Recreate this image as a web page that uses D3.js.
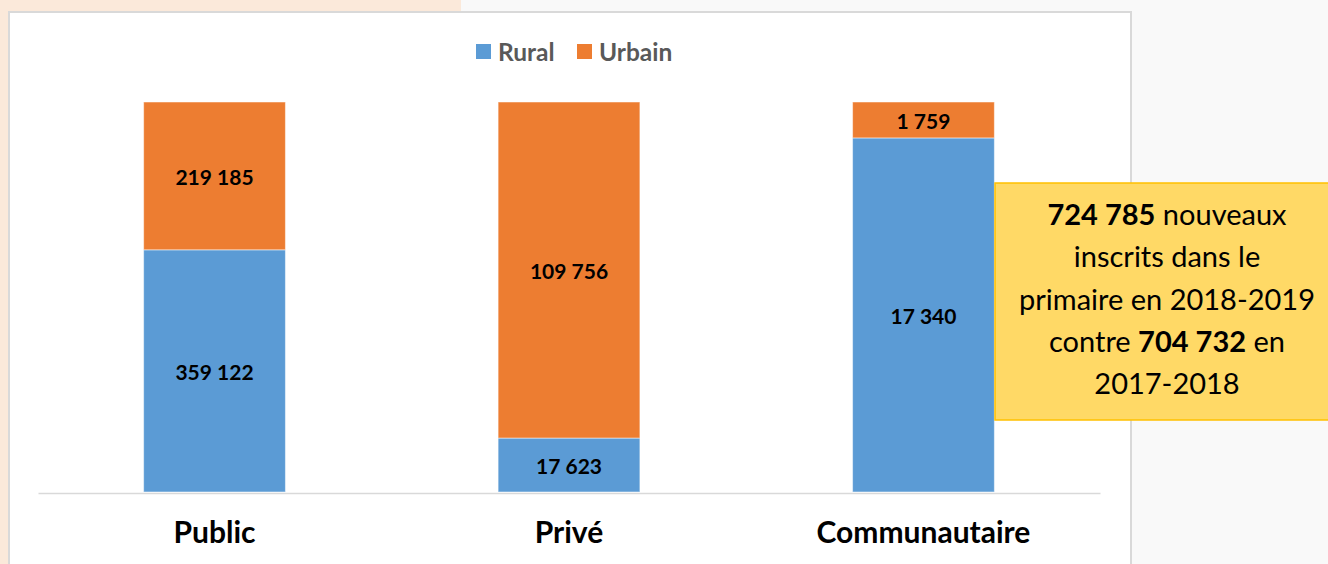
<!DOCTYPE html>
<html>
<head>
<meta charset="utf-8">
<script src="https://cdn.jsdelivr.net/npm/d3@7"></script>
<style>
  body { margin: 0; background: #f9f9f9; }
  text { font-family: Lato, "Open Sans", sans-serif; }
</style>
</head>
<body>
<script>
var categories = ["Public", "Privé", "Communautaire"]
var series = ["Rural", "Urbain"]
var rural = [359122, 17623, 17340]
var urbain = [219185, 109756, 1759]
var colors = ["#5b9bd5", "#ed7d31"]
var noteLines = [
  [["724 785", true], [" nouveaux", false]],
  [["inscrits dans le", false]],
  [["primaire en 2018-2019", false]],
  [["contre ", false], ["704 732", true], [" en", false]],
  [["2017-2018", false]]
]

var width = 1328
var height = 564

var svg = d3.select("body")
            .append("svg")
            .attr("width", width)
            .attr("height", height)

// page background
svg.append("rect").attr("x", 0).attr("y", 0).attr("width", 461).attr("height", height).attr("fill", "#fbe9da")
svg.append("rect").attr("x", 461).attr("y", 0).attr("width", width - 461).attr("height", height).attr("fill", "#f9f9f9")

// chart panel
svg.append("rect")
   .attr("x", 9).attr("y", 12)
   .attr("width", 1122).attr("height", 570)
   .attr("fill", "#fff")
   .attr("stroke", "#d9d9d9")
   .attr("stroke-width", 2)

var table = categories.map(function(c, i){
  return {cat: c, Rural: rural[i], Urbain: urbain[i]}
})

var stacked = d3.stack()
                .keys(series)
                .offset(d3.stackOffsetExpand)(table)

var xScale = d3.scaleBand()
               .domain(categories)
               .range([38, 1100])
               .paddingInner(0.6)
               .paddingOuter(0.298)

var yScale = d3.scaleLinear()
               .domain([0, 1])
               .range([492, 102])

var fmt = d3.formatLocale({thousands: " ", grouping: [3], decimal: ",", currency: ["", ""]}).format(",")

var groups = svg.selectAll("g.serie")
                .data(stacked)
                .enter()
                .append("g")
                .attr("class", "serie")
                .attr("fill", function(d, i){ return colors[i] })

groups.selectAll("rect")
      .data(function(d){ return d })
      .enter()
      .append("rect")
      .attr("x", function(d){ return xScale(d.data.cat) })
      .attr("y", function(d){ return yScale(d[1]) })
      .attr("width", xScale.bandwidth())
      .attr("height", function(d){ return yScale(d[0]) - yScale(d[1]) })
      .attr("stroke", "#fff")
      .attr("stroke-opacity", 0.5)
      .attr("stroke-width", 1)

groups.selectAll("text")
      .data(function(d){ return d.map(function(p){ p.key = d.key; return p }) })
      .enter()
      .append("text")
      .attr("x", function(d){ return xScale(d.data.cat) + xScale.bandwidth() / 2 })
      .attr("y", function(d){ return (yScale(d[0]) + yScale(d[1])) / 2 })
      .attr("dy", "0.45em")
      .attr("text-anchor", "middle")
      .attr("font-size", 21)
      .attr("font-weight", "bold")
      .attr("fill", "#000")
      .text(function(d){ return fmt(d.data[d.key]) })

// baseline
var xAxis = d3.axisBottom(xScale).tickSize(0).tickPadding(29)
var axisG = svg.append("g")
               .attr("transform", "translate(0,493)")
               .call(xAxis)
axisG.select(".domain").attr("stroke", "#d9d9d9").attr("stroke-width", 1.5)
axisG.selectAll("text")
     .attr("font-size", 30)
     .attr("font-weight", "bold")
     .attr("fill", "#000")
     .style("font-family", "Lato, sans-serif")

// legend
var legend = svg.append("g").attr("transform", "translate(476,51)")
var legX = [0, 101]
series.forEach(function(s, i){
  legend.append("rect").attr("x", legX[i]).attr("y", -7).attr("width", 15).attr("height", 15).attr("fill", colors[i])
  legend.append("text").attr("x", legX[i] + 22).attr("y", 1).attr("dy", "0.35em")
        .attr("font-size", 24.5).attr("font-weight", "bold").attr("fill", "#595959").text(s)
})

// note box
svg.append("rect")
   .attr("x", 995).attr("y", 183)
   .attr("width", 340).attr("height", 237)
   .attr("fill", "#ffd966")
   .attr("stroke", "#ffc000")
   .attr("stroke-width", 1.5)

var note = svg.append("text")
              .attr("text-anchor", "middle")
              .attr("font-size", 29)
              .attr("fill", "#000")
noteLines.forEach(function(line, i){
  var t = note.append("tspan").attr("x", 1167).attr("y", 225 + i * 42.3)
  line.forEach(function(part){
    t.append("tspan").attr("font-weight", part[1] ? "bold" : "normal").text(part[0])
  })
})
</script>
</body>
</html>
